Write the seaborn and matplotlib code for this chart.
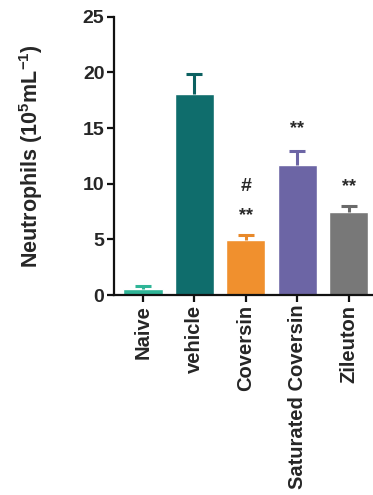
import numpy as np
import pandas as pd
import matplotlib
matplotlib.use("Agg")
import matplotlib.pyplot as plt
import seaborn as sns

groups = ["Naive", "vehicle", "Coversin", "Saturated Coversin", "Zileuton"]
means = [0.55, 18.1, 4.95, 11.65, 7.45]
sems = [0.3, 1.8, 0.4, 1.25, 0.55]
colors = ["#2fb597", "#0f6d6c", "#f0902e", "#6c65a5", "#787878"]
err_colors = ["#2fb597", "#0c6161", "#e8892a", "#6c65a5", "#6a6a6a"]
# significance marks: (group, y of mark centre, text)
marks = [("Coversin", 7.7, "**"), ("Coversin", 9.75, "#"),
         ("Saturated Coversin", 15.5, "**"), ("Zileuton", 10.3, "**")]

sns.set_style("ticks")
plt.rcParams['font.family'] = ['Liberation Sans', 'DejaVu Sans']
plt.rcParams['mathtext.fontset'] = 'custom'
plt.rcParams['mathtext.rm'] = 'Liberation Sans'
plt.rcParams['mathtext.bf'] = 'Liberation Sans:bold'

df = pd.DataFrame({"group": groups, "value": means})

fig = plt.figure(figsize=(3.73, 4.95), dpi=100)
ax = fig.add_axes([0.306, 0.404, 0.694, 0.562])

sns.barplot(data=df, x="group", y="value", hue="group", palette=colors,
            legend=False, width=0.76, saturation=1, errorbar=None, ax=ax)

x = np.arange(len(groups))
for i in range(len(groups)):
    eb = ax.errorbar(x[i], means[i], yerr=[[0], [sems[i]]], fmt="none",
                     ecolor=err_colors[i], elinewidth=2.2, capsize=6,
                     capthick=2.2)
    eb.lines[1][0].set_visible(False)  # no cap at the bar top

for g, y, t in marks:
    if t == "#":
        ax.text(groups.index(g), y, t, ha="center", va="center",
                fontsize=14, fontweight="bold", color="#2a2a2a")
    else:
        # asterisks sit high in the font, so place by baseline
        ax.text(groups.index(g), y - 0.95, t, ha="center", va="baseline",
                fontsize=13, fontweight="bold", color="#2a2a2a")

ax.set_ylim(0, 25)
ax.set_xlim(-0.56, 4.47)
ax.set_yticks([0, 5, 10, 15, 20, 25])
ax.set_xlabel("")
ax.set_ylabel("Neutrophils (10$^{\\mathbf{5}}$mL$^{\\mathbf{-1}}$)",
              fontsize=15.5, fontweight="bold")
ax.yaxis.set_label_coords(-0.266, 0.5)
ax.tick_params(axis="both", width=1.6, length=5, color="#111111")
ax.tick_params(axis="y", labelsize=14, pad=2)
ax.tick_params(axis="x", labelsize=14.5, rotation=90, pad=2)
for lab in ax.get_xticklabels() + ax.get_yticklabels():
    lab.set_fontweight("bold")
sns.despine(ax=ax)
for s in ["left", "bottom"]:
    ax.spines[s].set_linewidth(1.6)
    ax.spines[s].set_color("#111111")

fig.savefig("out.png", dpi=100)
